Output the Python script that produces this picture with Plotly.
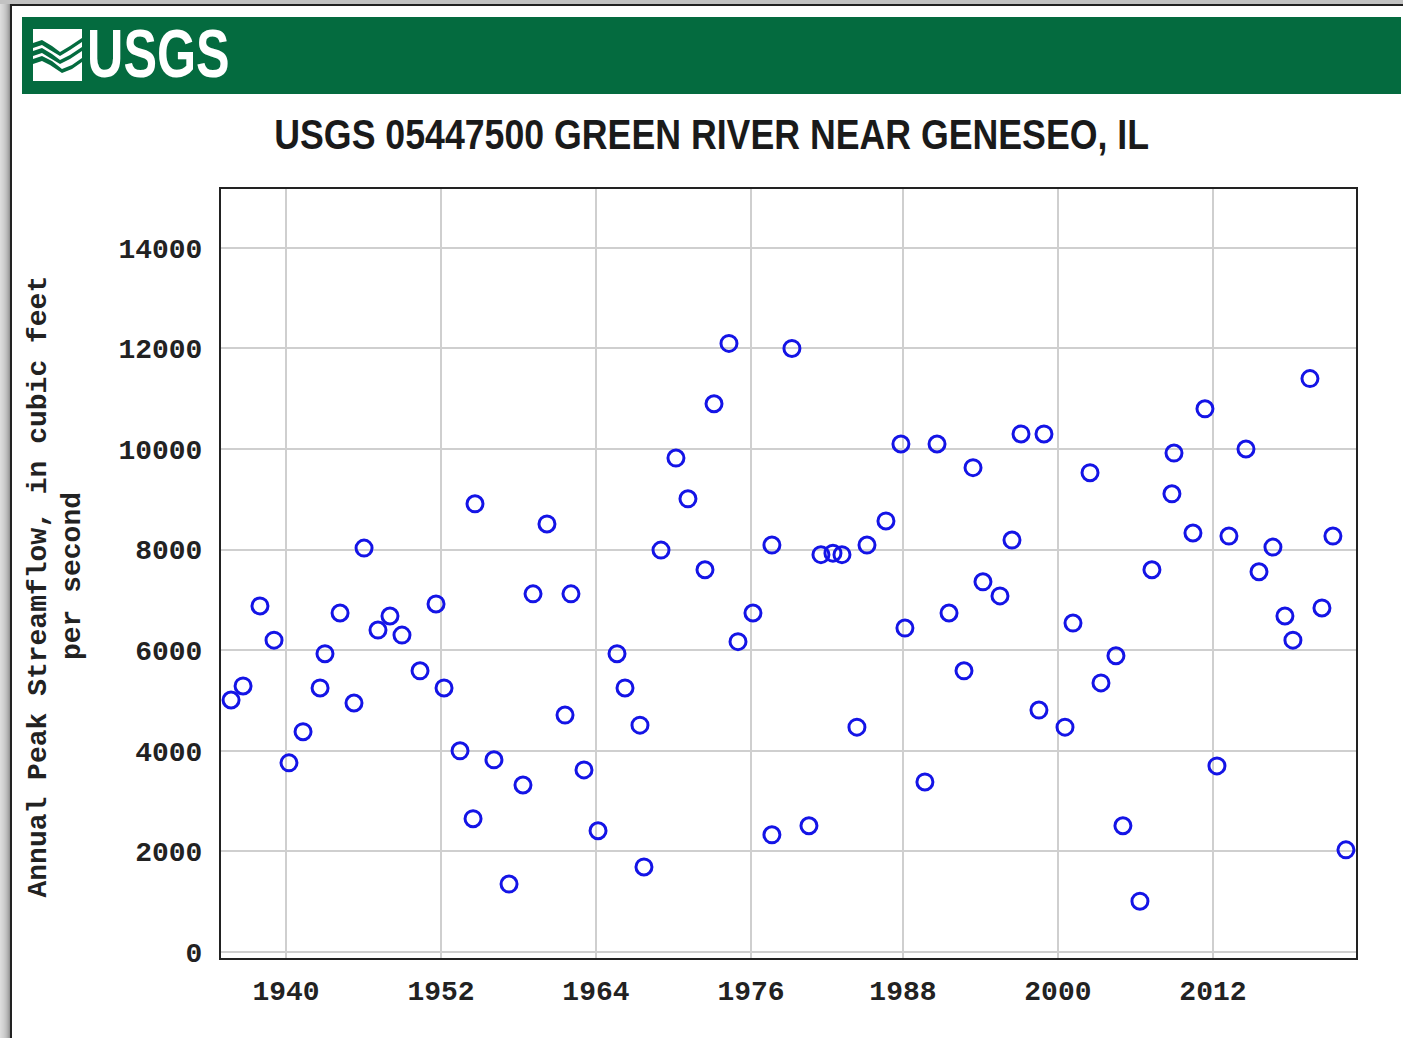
import plotly.graph_objects as go

years = [1935.74,1936.67,1937.98,1939.07,1940.23,1941.32,1942.64,1943.02,1944.19,1945.27,1946.05,1947.13,1948.06,1948.99,1950.39,1951.63,1952.25,1953.49,1954.50,1954.65,1956.12,1957.29,1958.37,1959.15,1960.23,1961.63,1962.09,1963.10,1964.19,1965.66,1966.28,1967.44,1967.75,1969.07,1970.23,1971.16,1972.48,1973.18,1974.34,1975.04,1976.20,1977.67,1977.67,1979.22,1980.54,1981.47,1982.40,1983.10,1984.26,1985.04,1986.51,1987.67,1987.98,1989.53,1990.47,1991.40,1992.56,1993.26,1994.03,1995.35,1996.28,1996.98,1998.37,1998.76,2000.39,2001.01,2002.33,2003.18,2004.34,2004.88,2006.20,2007.13,2008.68,2008.84,2010.31,2011.24,2012.17,2013.10,2014.42,2015.43,2016.51,2017.44,2018.06,2019.38,2020.31,2021.16,2022.17]
peaks = [5010,5290,6880,6200,3760,4380,5250,5930,6740,4950,8030,6400,6680,6300,5590,6920,5250,4000,2650,8910,3820,1350,3320,7120,8510,4710,7120,3620,2410,5930,5250,4510,1690,7990,9820,9010,7600,10900,12100,6170,6740,8090,2330,12000,2510,7900,7930,7900,4470,8090,8570,10100,6440,3380,10100,6740,5590,9630,7360,7080,8190,10300,4810,10300,4470,6540,9530,5350,5890,2510,1010,7600,9110,9920,8330,10800,3700,8270,10000,7560,8050,6680,6200,11400,6840,8270,2030]
x_tick_pos = [1940,1952.02,1964.03,1976.05,1987.83,1999.84,2011.86]
x_tick_labels = ["1940","1952","1964","1976","1988","2000","2012"]
y_ticks = [0,2000,4000,6000,8000,10000,12000,14000]
title_text = "USGS 05447500 GREEN RIVER NEAR GENESEO, IL"
y_title_line1 = "Annual Peak Streamflow, in cubic feet"
y_title_line2 = "per second"

W, H = 1403, 1038
L, R, T, B = 221, 1356, 189, 958
px = lambda v: (v - L) / (R - L)
py = lambda v: (B - v) / (B - T)
MONO = "Liberation Mono"
SANS = "Liberation Sans"
GREEN = "#046b3f"

def rect(x0, y0, x1, y1, color):
    return dict(type="rect", xref="paper", yref="paper", layer="below",
                x0=px(x0), x1=px(x1), y0=py(y0), y1=py(y1),
                fillcolor=color, line=dict(width=0))

def path(points, color):
    d = "M" + " L".join(f"{px(a):.5f},{py(b):.5f}" for a, b in points) + " Z"
    return dict(type="path", xref="paper", yref="paper", layer="below", path=d,
                fillcolor=color, line=dict(width=0))

shapes = []
# window shadow and frame
for i, c in enumerate(["#dcdcdc", "#d8d8d8", "#d4d4d4", "#d0d0d0", "#cacaca", "#c4c4c4", "#bcbcbc", "#b2b2b2", "#a6a6a6", "#969696"]):
    shapes.append(rect(i, 0, i + 1, H, c))
shapes.append(rect(0, 0, W, 4, "#c2c2c2"))
shapes.append(rect(10, 4, 12, H, "#222222"))
shapes.append(rect(10, 4, W, 6, "#222222"))
# banner
shapes.append(rect(22, 17, 1401, 94, GREEN))
# logo mark
shapes.append(rect(33, 29, 82, 81, "#ffffff"))
shapes.append(path([(33,43),(42,40),(52,46),(60,52),(70,46),(82,38),(82,42),(70,50),(60,56),(50,50),(42,45),(33,48)], GREEN))
shapes.append(path([(33,51),(42,48),(52,54),(60,60),(70,55),(82,47),(82,51),(70,59),(60,64),(50,58),(42,53),(33,56)], GREEN))
shapes.append(path([(33,59),(42,56),(52,61),(62,69),(72,65),(82,58),(82,62),(72,69),(62,73),(50,65),(42,61),(33,64)], GREEN))

annotations = [
    dict(text="<b>USGS</b>", x=px(158), y=py(53), xref="paper", yref="paper", xanchor="center", yanchor="middle",
         showarrow=False, font=dict(family=SANS, size=68, color="#ffffff")),
    dict(text="<b>" + title_text + "</b>", x=px(711), y=py(134), xref="paper", yref="paper", xanchor="center", yanchor="middle",
         showarrow=False, font=dict(family=SANS, size=42, color="#1a1a1a")),
    dict(text="<b>" + y_title_line1 + "</b>", x=px(38), y=py(586.5), xref="paper", yref="paper", xanchor="center", yanchor="middle",
         textangle=-90, showarrow=False, font=dict(family=MONO, size=28, color="#222222")),
    dict(text="<b>" + y_title_line2 + "</b>", x=px(72), y=py(576), xref="paper", yref="paper", xanchor="center", yanchor="middle",
         textangle=-90, showarrow=False, font=dict(family=MONO, size=28, color="#222222")),
]

fig = go.Figure(go.Scatter(
    x=years, y=peaks, mode="markers", cliponaxis=False,
    marker=dict(symbol="circle-open", size=16, color="#1414e6", line=dict(width=3, color="#1414e6")),
))
axis_common = dict(tickmode="array", showgrid=True, gridcolor="#cfcfcf", gridwidth=2, zeroline=False,
                   ticks="outside", tickcolor="rgba(0,0,0,0)", showline=True, linecolor="#222222",
                   linewidth=2, mirror=True,
                   tickfont=dict(family=MONO, size=28, color="#222222", weight="bold"))
fig.update_layout(
    width=W, height=H, autosize=False, showlegend=False,
    margin=dict(l=L, r=W - R, t=T, b=H - B, pad=0),
    paper_bgcolor="#ffffff", plot_bgcolor="#ffffff",
    shapes=shapes, annotations=annotations,
    xaxis=dict(range=[1934.96, 2022.95], tickvals=x_tick_pos, ticktext=x_tick_labels, ticklen=6, **axis_common),
    yaxis=dict(range=[-120, 15170], tickvals=y_ticks, ticktext=[str(v) for v in y_ticks], ticklen=11, **axis_common),
)
squeeze = """
document.body.style.margin='0';
document.querySelectorAll('.annotation-text').forEach(function(t){
  var s = t.textContent, k = s === 'USGS' ? 0.74 : (s.indexOf('GENESEO') >= 0 ? 0.85 : 1);
  if (k < 1) { t.style.transformBox = 'fill-box'; t.style.transformOrigin = 'center'; t.style.transform = 'scaleX(' + k + ')'; }
});
"""
fig.write_html("out.html", post_script=squeeze, config={"displayModeBar": False})
